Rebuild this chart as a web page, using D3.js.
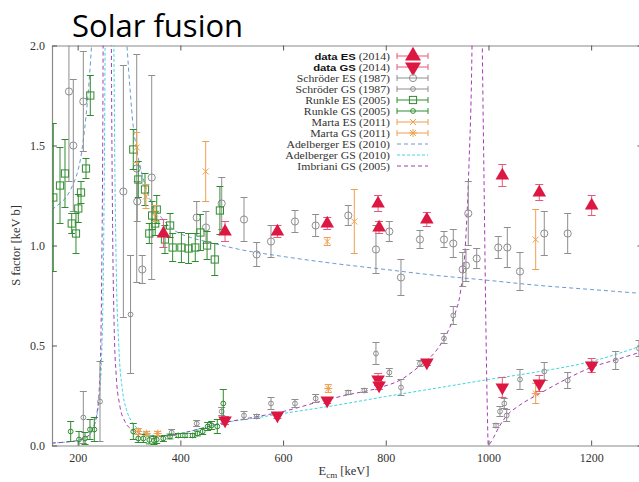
<!DOCTYPE html>
<html>
<head>
<meta charset="utf-8">
<script src="https://cdn.jsdelivr.net/npm/d3@7"></script>
<style>
  html, body { margin: 0; padding: 0; background: #fff; }
  svg { display: block; }
</style>
</head>
<body>
<script>
// 14N(p,γ)15O astrophysical S factor: ground-state (GS) and excited-state (ES) transitions.
// Measured points are [E_cm (keV), S (keV b), error].

const dataES = [[367,1.06,0.07],[487,1.07,0.05],[589,1.07,0.03],[686,1.11,0.03],[785,1.21,0.04],
  [787,1.09,0.03],[880,1.13,0.035],[1027,1.35,0.055],[1099,1.265,0.04],[1201,1.20,0.05]];
const dataGS = [[487,0.125,0.02],[589,0.15,0.015],[686,0.225,0.015],[785,0.33,0.03],[787,0.30,0.02],
  [880,0.415,0.015],[1027,0.29,0.05],[1099,0.31,0.04],[1201,0.40,0.035]];

const schroderES = [[183,1.77,0.45],[191.5,1.50,0.33],[211,1.72,0.25],[289,1.27,0.63],[315,1.385,0.57],
  [316,1.22,0.1],[325.8,0.88,0.07],[344.2,1.34,0.51],[431.8,1.14,0.08],[449.9,1.09,0.08],[480.5,1.21,0.13],
  [523.9,1.13,0.11],[548.6,0.955,0.06],[576.5,1.02,0.08],[623.2,1.12,0.055],[663.5,1.10,0.055],
  [727,1.15,0.05],[780.9,0.98,0.12],[806.9,1.07,0.05],[829.6,0.84,0.09],[866.6,1.03,0.045],
  [913.4,1.03,0.04],[931.5,1.01,0.07],[949.8,0.88,0.085],[956.2,0.90,0.08],[960.7,1.16,0.16],
  [977.1,0.935,0.05],[1019.1,0.99,0.055],[1036.7,0.99,0.1],[1061.4,0.87,0.095],[1108.7,1.06,0.11],
  [1154.3,1.06,0.10]];
const schroderGS = [[211,0.14,0.13],[243.5,0.22,0.2],[303,0.655,0.295],[383.1,0.065,0.015],[431.8,0.11,0.015],
  [480.5,0.17,0.02],[523.9,0.15,0.02],[548.6,0.145,0.01],[576.5,0.21,0.03],[623.2,0.21,0.02],
  [663.5,0.235,0.02],[727,0.265,0.01],[758.2,0.275,0.01],[780.9,0.46,0.055],[806.9,0.365,0.02],
  [829.6,0.29,0.04],[866.6,0.41,0.015],[913.4,0.535,0.025],[931.5,0.65,0.045],[1014.7,0.10,0.01],
  [1022.4,0.17,0.025],[1030.8,0.21,0.025],[1035.5,0.15,0.03],[1061.4,0.33,0.05],[1108.7,0.37,0.045],
  [1154.3,0.325,0.04],[1247.8,0.425,0.045],[1293.2,0.485,0.04]];

const runkleES = [[152.5,1.24,0.37],[165.6,1.30,0.19],[175.3,1.36,0.17],[188.4,1.11,0.05],[196.7,1.06,0.10],
  [201.2,1.185,0.07],[206.5,1.265,0.055],[216.2,1.385,0.05],[224.6,1.75,0.10],[308.3,1.48,0.10],
  [318.1,1.33,0.09],[331.1,1.28,0.08],[339.5,1.06,0.05],[345,1.15,0.07],[351,1.11,0.06],[354,1.18,0.07],
  [370,1.03,0.07],[380,1.10,0.06],[385,0.99,0.07],[402,0.99,0.075],[416,0.985,0.075],[429,0.99,0.07],
  [439,1.065,0.09],[452,1.0,0.07],[467,0.93,0.08],[477,1.175,0.12]];
const runkleGS = [[186.4,0.07,0.05],[202.6,0.03,0.04],[214.3,0.035,0.03],[224,0.08,0.05],[232.4,0.08,0.06],
  [308.3,0.07,0.04],[318,0.035,0.02],[327.8,0.035,0.02],[339.5,0.028,0.02],[348.6,0.025,0.02],
  [353.9,0.03,0.02],[366.7,0.035,0.015],[379.8,0.045,0.012],[396,0.05,0.01],[409,0.05,0.01],
  [424,0.05,0.01],[433,0.06,0.012],[443.5,0.07,0.015],[453.2,0.095,0.02],[461,0.10,0.02],
  [471.9,0.095,0.035],[483.6,0.21,0.07]];

const martaES = [[315,1.49,0.075],[333,1.245,0.06],[350.6,1.16,0.04],[449.3,1.37,0.15],[686,1.02,0.02],
  [738.7,1.12,0.16],[1092,1.03,0.15]];
const martaGS = [[318,0.07,0.015],[334.4,0.06,0.01],[355.8,0.06,0.01],[688,0.285,0.02],[1092,0.26,0.05]];

// R-matrix / fit curves, [E_cm, S]
const adelbergerES = [[150,1.18],[165,1.21],[180,1.25],[190,1.30],[200,1.37],[206,1.44],[211,1.53],[216,1.64],
  [221,1.78],[225,1.92],[228,2.05],[232,2.3],[240,3.0],[278,3.0],[286,2.4],[292,2.15],[296,2.0],[302,1.78],
  [308,1.6],[315,1.48],[325,1.36],[341,1.23],[360,1.15],[386,1.08],[420,1.04],[450,1.02],[516,0.98],
  [600,0.945],[700,0.91],[800,0.88],[900,0.85],[983,0.83],[1100,0.80],[1200,0.78],[1300,0.76]];
const adelbergerGS = [[150,0.012],[180,0.018],[200,0.025],[215,0.04],[225,0.06],[232,0.1],[238,0.16],
  [243,0.26],[246,0.4],[249,0.7],[251,1.1],[253,1.8],[255,3],[268,3],[270,2.2],[272,1.5],[275,0.9],
  [280,0.5],[287,0.28],[295,0.18],[305,0.12],[320,0.08],[340,0.055],[360,0.048],[400,0.06],[440,0.085],
  [477,0.11],[540,0.135],[600,0.16],[700,0.20],[800,0.245],[906,0.29],[1000,0.33],[1100,0.37],
  [1200,0.42],[1300,0.50]];
const imbrianiGS = [[150,0.012],[180,0.018],[200,0.025],[215,0.04],[225,0.06],[232,0.1],[238,0.17],
  [242,0.28],[245,0.5],[247,0.9],[249,1.6],[251,3],[264,3],[266,1.8],[268,1.1],[271,0.6],[275,0.35],
  [282,0.2],[292,0.12],[305,0.08],[320,0.06],[340,0.048],[360,0.045],[400,0.06],[440,0.085],[477,0.11],
  [540,0.14],[600,0.17],[672,0.22],[720,0.25],[789,0.29],[830,0.33],[867,0.40],[900,0.48],[919,0.56],
  [935,0.66],[945,0.76],[955,1.0],[962,1.4],[968,2.0],[972,3],[984,3],[988,2.0],[992,1.2],[995,0.6],
  [998,0.15],[999.5,0.0],[1003,0.01],[1010,0.04],[1020,0.09],[1036,0.15],[1060,0.20],[1100,0.26],
  [1150,0.33],[1200,0.39],[1250,0.43],[1300,0.47]];

const xTicks = [200, 400, 600, 800, 1000, 1200];
const yTicks = [0, 0.5, 1.0, 1.5, 2.0];

const C = {
  red: "#dc1742", redBar: "#e8587a",
  grey: "#8e8e8e", green: "#2f8c2f", orange: "#eea050",
  blue: "#6c98d2", cyan: "#3fd6df", purple: "#a43cb4", frame: "#8a8a8a"
};
const serif = "'Liberation Serif', 'DejaVu Serif', serif";

const W = 639, H = 482;
const svg = d3.select("body").append("svg").attr("width", W).attr("height", H);

const x = d3.scaleLinear().domain([150, 1300]).range([52, 642.5]);
const y = d3.scaleLinear().domain([0, 2]).range([445.5, 45.5]);

svg.append("text").attr("x", 72).attr("y", 37)
  .attr("font-family", "'Open Sans', sans-serif").attr("font-size", 31)
  .attr("fill", "#000").text("Solar fusion");

svg.append("defs").append("clipPath").attr("id", "plotclip")
  .append("rect").attr("x", x.range()[0]).attr("y", y.range()[1])
  .attr("width", x.range()[1] - x.range()[0]).attr("height", y.range()[0] - y.range()[1]);

// axes with inward ticks on all four sides
function styleAxis(g) {
  g.selectAll("path.domain").attr("stroke", C.frame).attr("stroke-width", 1.2);
  g.selectAll(".tick line").attr("stroke", "#555");
  g.selectAll(".tick text").attr("font-family", serif).attr("font-size", 12).attr("fill", "#333");
}
svg.append("g").attr("transform", `translate(0,${y(0)})`)
  .call(d3.axisBottom(x).tickValues(xTicks).tickSize(-5).tickSizeOuter(0).tickPadding(8).tickFormat(d3.format("d")))
  .call(styleAxis);
svg.append("g").attr("transform", `translate(0,${y(2)})`)
  .call(d3.axisTop(x).tickValues(xTicks).tickSize(-5).tickSizeOuter(0).tickFormat(""))
  .call(styleAxis);
svg.append("g").attr("transform", `translate(${x(150)},0)`)
  .call(d3.axisLeft(y).tickValues(yTicks).tickSize(-5).tickSizeOuter(0).tickPadding(7).tickFormat(d3.format(".1f")))
  .call(styleAxis);
svg.append("g").attr("transform", `translate(${x(1300)},0)`)
  .call(d3.axisRight(y).tickValues(yTicks).tickSize(-5).tickSizeOuter(0).tickFormat(""))
  .call(styleAxis);

svg.append("text").attr("transform", `translate(20,${(y(0) + y(2)) / 2}) rotate(-90)`)
  .attr("text-anchor", "middle").attr("font-family", serif).attr("font-size", 12.5).attr("fill", "#333")
  .text("S factor [keV b]");
const xl = svg.append("text").attr("x", 344).attr("y", 475)
  .attr("text-anchor", "middle").attr("font-family", serif).attr("font-size", 12.5).attr("fill", "#333");
xl.append("tspan").text("E");
xl.append("tspan").attr("dy", 3).attr("font-size", 9).text("cm");
xl.append("tspan").attr("dy", -3).text(" [keV]");

const plot = svg.append("g").attr("clip-path", "url(#plotclip)");

// theory curves
const line = d3.line().x(d => x(d[0])).y(d => y(d[1])).curve(d3.curveMonotoneX);
function curve(data, color, dash) {
  plot.append("path").datum(data).attr("d", line).attr("fill", "none")
    .attr("stroke", color).attr("stroke-width", 1).attr("stroke-dasharray", dash);
}
curve(adelbergerES, C.blue, "4,3");
curve(adelbergerGS, C.cyan, "3,2");
curve(imbrianiGS, C.purple, "4,3");

// marker shapes
const triUp = d3.symbol().type(d3.symbolTriangle).size(80)();
const triUpBig = d3.symbol().type(d3.symbolTriangle).size(110)();
function marker(g, kind, color, big) {
  const tri = big ? triUpBig : triUp;
  switch (kind) {
    case "triUp": g.append("path").attr("d", tri).attr("fill", color); break;
    case "triDown": g.append("path").attr("d", tri).attr("transform", "rotate(180)").attr("fill", color); break;
    case "circle": g.append("circle").attr("r", 3.6).attr("fill", "none").attr("stroke", color); break;
    case "smallCircle": g.append("circle").attr("r", 2.4).attr("fill", "none").attr("stroke", color); break;
    case "square": g.append("rect").attr("x", -3.6).attr("y", -3.6).attr("width", 7.2).attr("height", 7.2)
      .attr("fill", "none").attr("stroke", color); break;
    case "cross": g.append("path").attr("d", "M-3,-3L3,3M-3,3L3,-3").attr("stroke", color); break;
    case "star": g.append("path").attr("d", "M-3,-3L3,3M-3,3L3,-3M-4,0L4,0M0,-4L0,4").attr("stroke", color); break;
  }
}

function series(data, kind, color, barColor, cap) {
  const g = plot.append("g");
  data.forEach(d => {
    const cx = x(d[0]), lo = y(d[1] - d[2]), hi = y(d[1] + d[2]);
    g.append("path")
      .attr("d", `M${cx},${lo}V${hi}M${cx - cap},${lo}H${cx + cap}M${cx - cap},${hi}H${cx + cap}`)
      .attr("stroke", barColor).attr("stroke-width", 1).attr("fill", "none");
    const m = g.append("g").attr("transform", `translate(${cx},${y(d[1])})`);
    marker(m, kind, color);
  });
}

series(schroderES, "circle", C.grey, C.grey, 3.5);
series(schroderGS, "smallCircle", C.grey, C.grey, 3.5);
series(runkleES, "square", C.green, C.green, 3.5);
series(runkleGS, "smallCircle", C.green, C.green, 3.5);
series(martaES, "cross", C.orange, C.orange, 3.5);
series(martaGS, "star", C.orange, C.orange, 3.5);
series(dataES, "triUp", C.red, C.redBar, 4);
series(dataGS, "triDown", C.red, C.redBar, 4);

// legend: tightly packed rows, text widened horizontally to the serif width of the key
const legend = [
  { bold: "data ES", rest: " (2014)", kind: "triUp", color: C.red, bar: C.redBar },
  { bold: "data GS", rest: " (2014)", kind: "triDown", color: C.red, bar: C.redBar },
  { rest: "Schröder ES (1987)", kind: "circle", color: C.grey, bar: C.grey },
  { rest: "Schröder GS (1987)", kind: "smallCircle", color: C.grey, bar: C.grey },
  { rest: "Runkle ES (2005)", kind: "square", color: C.green, bar: C.green },
  { rest: "Runkle GS (2005)", kind: "smallCircle", color: C.green, bar: C.green },
  { rest: "Marta ES (2011)", kind: "cross", color: C.orange, bar: C.orange },
  { rest: "Marta GS (2011)", kind: "star", color: C.orange, bar: C.orange },
  { rest: "Adelberger ES (2010)", line: C.blue, dash: "4,3" },
  { rest: "Adelberger GS (2010)", line: C.cyan, dash: "3,2" },
  { rest: "Imbriani GS (2005)", line: C.purple, dash: "4,3" }
];
const lg = svg.append("g");
legend.forEach((d, i) => {
  const ly = 56 + i * 11;
  const t = lg.append("text").attr("transform", `translate(390,${ly + 3.5}) scale(1.2,1)`)
    .attr("text-anchor", "end")
    .attr("font-family", serif).attr("font-size", 9.8).attr("fill", "#333");
  if (d.bold) t.append("tspan").attr("font-family", "'Liberation Sans', Arial, sans-serif")
    .attr("font-weight", "bold").attr("font-size", 9.4).attr("fill", "#111").text(d.bold);
  t.append("tspan").text(d.rest);
  if (d.line) {
    lg.append("line").attr("x1", 397).attr("x2", 428).attr("y1", ly).attr("y2", ly)
      .attr("stroke", d.line).attr("stroke-dasharray", d.dash);
  } else {
    lg.append("path").attr("d", `M397,${ly}H428M397,${ly - 3}V${ly + 3}M428,${ly - 3}V${ly + 3}`)
      .attr("stroke", d.bar).attr("fill", "none");
    marker(lg.append("g").attr("transform", `translate(413,${ly})`), d.kind, d.color, true);
  }
});
</script>
</body>
</html>
